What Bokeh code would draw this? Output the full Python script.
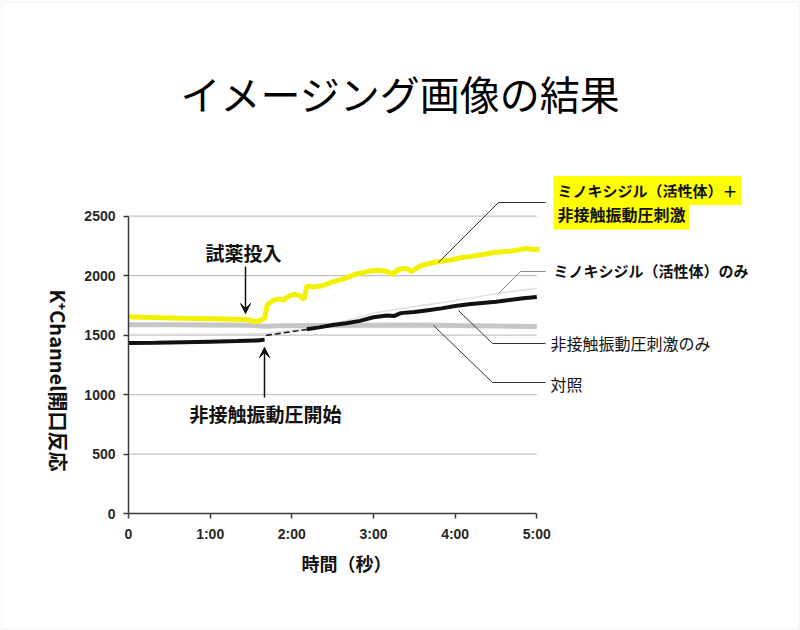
import math
from bokeh.plotting import figure
from bokeh.models import Range1d, FixedTicker, Label, Arrow, VeeHead, PolyAnnotation
from bokeh.embed import file_html
from bokeh.resources import INLINE

# ---------------- data ----------------
x_ticks = [0, 60, 120, 180, 240, 300]
x_tick_labels = ["0", "1:00", "2:00", "3:00", "4:00", "5:00"]
y_ticks = [0, 500, 1000, 1500, 2000, 2500]

# ミノキシジル（活性体）＋非接触振動圧刺激 (yellow)
yellow_t = [0, 10, 20, 30, 40, 50, 60, 70, 80, 88, 93, 97, 100, 102, 106, 110, 114, 118, 122, 126, 129,
            131, 136, 142, 148, 154, 160, 166, 172, 178, 184, 190, 194, 198, 202, 205, 208, 214, 220,
            226, 232, 238, 244, 250, 256, 262, 268, 274, 280, 286, 292, 298, 302]
yellow_v = [1655, 1650, 1648, 1645, 1642, 1640, 1638, 1636, 1633, 1630, 1612, 1625, 1645, 1755, 1790, 1805, 1795, 1830, 1845, 1830, 1800,
            1910, 1905, 1915, 1940, 1960, 1980, 2010, 2025, 2040, 2045, 2035, 2012, 2050, 2060, 2058, 2035, 2080, 2100,
            2115, 2125, 2135, 2150, 2160, 2170, 2180, 2195, 2200, 2205, 2215, 2228, 2220, 2222]

# ミノキシジル（活性体）のみ (light)
light_t = [0, 50, 100, 130, 160, 180, 210, 240, 270, 300]
light_v = [1505, 1508, 1512, 1555, 1620, 1685, 1740, 1790, 1848, 1895]

# 非接触振動圧刺激のみ (black)
black1_t = [0, 20, 40, 60, 80, 95, 100]
black1_v = [1433, 1435, 1440, 1445, 1450, 1455, 1462]
black_gap_t = [101, 131]
black_gap_v = [1497, 1548]
black2_t = [131, 140, 150, 160, 170, 180, 190, 195, 200, 210, 220, 230, 240, 250, 260, 270, 280, 290, 300]
black2_v = [1550, 1565, 1585, 1600, 1620, 1650, 1665, 1660, 1685, 1695, 1710, 1725, 1745, 1760, 1770, 1780, 1795, 1810, 1820]

# 対照 (gray)
gray_t = [0, 30, 60, 90, 100, 110, 140, 180, 210, 240, 270, 300]
gray_v = [1588, 1587, 1585, 1582, 1575, 1578, 1580, 1583, 1585, 1580, 1576, 1572]

# ---------------- layout helpers ----------------
W, H = 800, 630
FL = 128          # pixel x of t = 0
FB = 513          # pixel y of value = 0
SX = 81.66 / 60   # px per second
SY = 59.46 / 500  # px per unit


def px2x(px):
    return (px - FL) / SX


def py2y(py):
    return (FB - py) / SY


JP = "Noto Sans CJK JP"

p = figure(width=W, height=H, output_backend="svg", toolbar_location=None, title=None,
           x_range=Range1d(px2x(0), px2x(W)), y_range=Range1d(py2y(H), py2y(0)),
           min_border_left=0, min_border_right=0, min_border_top=0, min_border_bottom=0)
p.outline_line_color = None
p.background_fill_color = "white"
p.border_fill_color = "white"
p.grid.visible = False

# axes (placed inside the frame at the data origin)
for ax in (p.xaxis, p.yaxis):
    ax.fixed_location = 0
    ax.axis_line_color = "#3a3a3a"
    ax.axis_line_width = 1.5
    ax.major_tick_line_color = "#3a3a3a"
    ax.major_tick_line_width = 1.5
    ax.major_tick_in = 0
    ax.major_tick_out = 5
    ax.minor_tick_line_color = None
    ax.major_label_text_font = "Liberation Sans"
    ax.major_label_text_font_style = "bold"
    ax.major_label_text_font_size = "14px"
    ax.major_label_text_color = "#262626"

p.xaxis.ticker = FixedTicker(ticks=x_ticks)
p.xaxis.major_label_overrides = {t: l for t, l in zip(x_ticks, x_tick_labels)}
p.xaxis.bounds = (x_ticks[0], x_ticks[-1])
p.xaxis.major_label_standoff = 7
p.yaxis.ticker = FixedTicker(ticks=y_ticks)
p.yaxis.bounds = (y_ticks[0], y_ticks[-1])
p.yaxis.major_label_standoff = 8

# grid lines
p.segment(x0=[x_ticks[0]] * (len(y_ticks) - 1), x1=[x_ticks[-1]] * (len(y_ticks) - 1),
          y0=y_ticks[1:], y1=y_ticks[1:], line_color="#c4c4c4", line_width=1.2)

# series
p.line(gray_t, gray_v, line_color="#c6c6c6", line_width=5)
p.line(light_t, light_v, line_color="#dedede", line_width=1.5)
p.line(black1_t, black1_v, line_color="#111111", line_width=4)
p.line(black_gap_t, black_gap_v, line_color="#111111", line_width=1.5, line_dash="6 3")
p.line(black2_t, black2_v, line_color="#111111", line_width=4)
p.line(yellow_t, yellow_v, line_color="#f2f200", line_width=5)

# leader lines
leader_col = "#333333"
p.line([px2x(545), px2x(498), px2x(438)], [py2y(202), py2y(202), py2y(262)], line_color=leader_col, line_width=1)
p.line([px2x(545), px2x(520), px2x(498)], [py2y(271), py2y(271), py2y(293)], line_color="#8a8a8a", line_width=1)
p.line([px2x(545), px2x(492), px2x(458)], [py2y(343), py2y(343), py2y(310)], line_color=leader_col, line_width=1)
p.line([px2x(545), px2x(492), px2x(433)], [py2y(382), py2y(382), py2y(325)], line_color=leader_col, line_width=1)

# arrows
p.add_layout(Arrow(end=VeeHead(size=10, fill_color="#111111", line_color="#111111"),
                   x_start=px2x(245), y_start=py2y(266), x_end=px2x(245), y_end=py2y(313),
                   line_color="#111111", line_width=1.5))
p.add_layout(Arrow(end=VeeHead(size=10, fill_color="#111111", line_color="#111111"),
                   x_start=px2x(264), y_start=py2y(397), x_end=px2x(264), y_end=py2y(347),
                   line_color="#111111", line_width=1.5))


def lab(text, px, py, size, bold=False, align="left", angle=0.0, bg=None, color="#111111"):
    kw = {}
    if bg is not None:
        kw = dict(background_fill_color=bg, padding=4)
    p.add_layout(Label(x=px2x(px), y=py2y(py), text=text, text_font=JP,
                       text_font_size=f"{size}px", text_font_style="bold" if bold else "normal",
                       text_align=align, text_baseline="middle", angle=angle,
                       text_color=color, **kw))


lab("イメージング画像の結果", 400, 92, 40, align="center", color="#000000")
lab("試薬投入", 243, 252, 19, bold=True, align="center")
lab("非接触振動圧開始", 265, 413, 19, bold=True, align="center")
lab("ミノキシジル（活性体）＋", 553, 190, 15, bold=True, bg="#ffff00")
lab("非接触振動圧刺激", 553, 213, 16, bold=True, bg="#ffff00")
lab("ミノキシジル（活性体）のみ", 553, 270, 15, bold=True)
lab("非接触振動圧刺激のみ", 550, 342, 16)
lab("対照", 550, 383, 16)
lab("K⁺Channel開口反応", 58, 380, 20, bold=True, align="center", angle=-math.pi / 2)
lab("時間（秒）", 346, 562, 18, bold=True, align="center")

# outer frame
p.add_layout(PolyAnnotation(xs=[px2x(1), px2x(799), px2x(799), px2x(1)],
                            ys=[py2y(1), py2y(1), py2y(629), py2y(629)],
                            fill_color=None, line_color="#e0e0e0", line_width=2))

open("out.html", "w").write(file_html(p, INLINE))
